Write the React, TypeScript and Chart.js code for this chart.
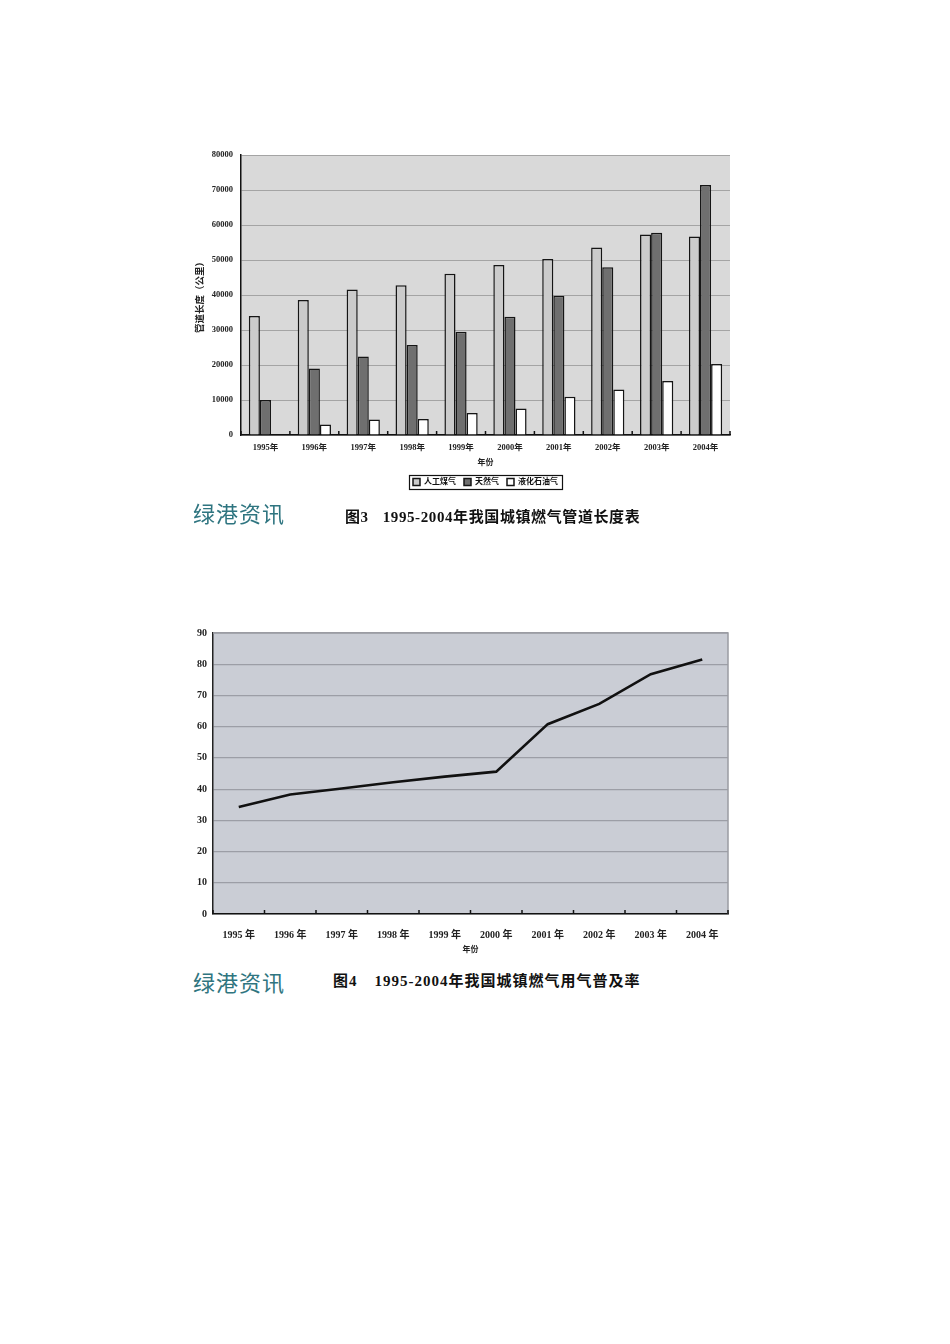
import React, { useEffect, useRef } from "react";
import { Chart, registerables } from "chart.js";

Chart.register(...registerables);

// ---------- data ----------
const barYears = ["1995年", "1996年", "1997年", "1998年", "1999年", "2000年", "2001年", "2002年", "2003年", "2004年"];
const artificialGas = [34000, 38600, 41600, 42800, 46100, 48600, 50300, 53600, 57300, 56700];
const naturalGas = [10000, 19000, 22400, 25700, 29500, 33800, 39800, 47900, 57800, 71400];
const lpgGas = [0, 3000, 4400, 4600, 6300, 7600, 10900, 13000, 15400, 20300];
const seriesNames = ["人工煤气", "天然气", "液化石油气"];
const barYMax = 80000;
const barYStep = 10000;

const lineYears = ["1995 年", "1996 年", "1997 年", "1998 年", "1999 年", "2000 年", "2001 年", "2002 年", "2003 年", "2004 年"];
const penetration = [34.3, 38.3, 40.2, 42.2, 44.0, 45.6, 60.8, 67.3, 76.8, 81.5];
const lineYMax = 90;
const lineYStep = 10;

const FONT = "'Liberation Serif', 'Noto Sans CJK SC', serif";

// ---------- plugins ----------
const areaBg = (color: string) => ({
  id: "areaBg",
  beforeDraw(chart: any) {
    const { ctx, chartArea } = chart;
    ctx.save();
    ctx.fillStyle = color;
    ctx.fillRect(chartArea.left, chartArea.top, chartArea.right - chartArea.left, chartArea.bottom - chartArea.top);
    ctx.restore();
  },
});

const innerTicks = {
  id: "innerTicks",
  afterDraw(chart: any) {
    const xs = chart.scales.x;
    const n = chart.data.labels.length;
    const ctx = chart.ctx;
    const half = (xs.getPixelForValue(1) - xs.getPixelForValue(0)) / 2;
    ctx.save();
    ctx.strokeStyle = "#111";
    ctx.lineWidth = 1.5;
    for (let i = 0; i <= n; i++) {
      const px = xs.getPixelForValue(i) - half;
      ctx.beginPath();
      ctx.moveTo(px, chart.chartArea.bottom);
      ctx.lineTo(px, chart.chartArea.bottom - 4);
      ctx.stroke();
    }
    ctx.restore();
  },
};

const legendFrame = {
  id: "legendFrame",
  afterDraw(chart: any) {
    const hb = chart.legend && chart.legend.legendHitBoxes;
    if (!hb || !hb.length) return;
    let l = Infinity, r = -Infinity, t = Infinity, b = -Infinity;
    hb.forEach((h: any) => {
      l = Math.min(l, h.left);
      r = Math.max(r, h.left + h.width);
      t = Math.min(t, h.top);
      b = Math.max(b, h.top + h.height);
    });
    const ctx = chart.ctx;
    ctx.save();
    ctx.strokeStyle = "#111";
    ctx.lineWidth = 1.2;
    ctx.strokeRect(Math.round(l - 4) + 0.5, Math.round(t - 3) + 0.5, Math.round(r - l + 8), Math.round(b - t + 6));
    ctx.restore();
  },
};

const topRightFrame = {
  id: "topRightFrame",
  afterDraw(chart: any) {
    const { ctx, chartArea } = chart;
    ctx.save();
    ctx.strokeStyle = "#9a9ca2";
    ctx.lineWidth = 1.5;
    ctx.beginPath();
    ctx.moveTo(chartArea.left, chartArea.top);
    ctx.lineTo(chartArea.right, chartArea.top);
    ctx.lineTo(chartArea.right, chartArea.bottom);
    ctx.stroke();
    ctx.restore();
  },
};

// ---------- charts ----------
function BarChart() {
  const ref = useRef<HTMLCanvasElement>(null);
  useEffect(() => {
    if (!ref.current) return;
    const border = "#151515";
    const chart = new Chart(ref.current, {
      type: "bar",
      data: {
        labels: barYears,
        datasets: [
          { label: seriesNames[0], data: artificialGas, backgroundColor: "#cbcbcb", borderColor: border, borderWidth: 1.5 },
          { label: seriesNames[1], data: naturalGas, backgroundColor: "#6f6f6f", borderColor: border, borderWidth: 1.5 },
          { label: seriesNames[2], data: lpgGas, backgroundColor: "#ffffff", borderColor: border, borderWidth: 1.5 },
        ],
      },
      options: {
        animation: false,
        responsive: false,
        devicePixelRatio: 1,
        layout: { padding: { top: 15, right: 15, left: 0, bottom: 4 } },
        datasets: { bar: { categoryPercentage: 0.68, barPercentage: 1.0 } },
        plugins: {
          tooltip: { enabled: false },
          legend: {
            position: "bottom",
            fullSize: false,
            labels: {
              boxWidth: 7,
              boxHeight: 7,
              padding: 8,
              color: "#111",
              font: { family: FONT, size: 8, weight: "bold" },
            },
          },
        },
        scales: {
          x: {
            grid: { display: true, color: "transparent", drawTicks: false },
            border: { display: true, color: "#111", width: 1.5 },
            ticks: { color: "#222", padding: 8, maxRotation: 0, font: { family: FONT, size: 8.5, weight: "bold" } },
            title: { display: true, text: "年份", color: "#222", font: { family: FONT, size: 8, weight: "bold" }, padding: { top: 0, bottom: 2 } },
            afterFit: (s: any) => { s.height = 35; },
          },
          y: {
            min: 0,
            max: barYMax,
            ticks: {
              stepSize: barYStep,
              color: "#222",
              padding: 8,
              font: { family: FONT, size: 8.5, weight: "bold" },
              callback: (v: any) => String(v),
            },
            grid: { color: "#a4a4a4", lineWidth: 1, drawTicks: false },
            border: { display: true, color: "#111", width: 1.5 },
            title: { display: true, text: "管道长度（公里）", color: "#222", font: { family: FONT, size: 9.5, weight: "bold" }, padding: { top: 10, bottom: 0 } },
            afterFit: (s: any) => { s.width = 56; },
          },
        },
      },
      plugins: [areaBg("#d9d9d9"), innerTicks, legendFrame],
    } as any);
    return () => chart.destroy();
  }, []);
  return <canvas ref={ref} width={560} height={360} style={{ position: "absolute", left: 185, top: 140, width: 560, height: 360 }} />;
}

function LineChart() {
  const ref = useRef<HTMLCanvasElement>(null);
  useEffect(() => {
    if (!ref.current) return;
    const chart = new Chart(ref.current, {
      type: "line",
      data: {
        labels: lineYears,
        datasets: [
          { label: "普及率", data: penetration, borderColor: "#111", borderWidth: 2.6, pointRadius: 0, tension: 0, fill: false },
        ],
      },
      options: {
        animation: false,
        responsive: false,
        devicePixelRatio: 1,
        layout: { padding: { top: 13, right: 17, left: 0, bottom: 0 } },
        plugins: { tooltip: { enabled: false }, legend: { display: false } },
        scales: {
          x: {
            offset: true,
            grid: { display: true, color: "transparent", drawTicks: false, offset: true },
            border: { display: true, color: "#111", width: 1.5 },
            ticks: { color: "#222", padding: 15, maxRotation: 0, font: { family: FONT, size: 10, weight: "bold" } },
            title: { display: true, text: "年份", color: "#222", font: { family: FONT, size: 8, weight: "bold" }, padding: { top: 0, bottom: 10 } },
            afterFit: (s: any) => { s.height = 51; },
          },
          y: {
            min: 0,
            max: lineYMax,
            ticks: { stepSize: lineYStep, color: "#222", padding: 6, font: { family: FONT, size: 10, weight: "bold" } },
            grid: { color: "#9c9ea6", lineWidth: 1.2, drawTicks: false },
            border: { display: true, color: "#222", width: 1.5 },
            afterFit: (s: any) => { s.width = 28; },
          },
        },
      },
      plugins: [areaBg("#cacdd5"), topRightFrame, innerTicks],
    } as any);
    return () => chart.destroy();
  }, []);
  return <canvas ref={ref} width={560} height={345} style={{ position: "absolute", left: 185, top: 620, width: 560, height: 345 }} />;
}

const logoStyle: React.CSSProperties = {
  position: "absolute",
  left: 193,
  fontFamily: "'Noto Sans CJK SC', serif",
  fontSize: 22,
  lineHeight: "24px",
  color: "#2f7580",
  letterSpacing: 1,
  whiteSpace: "nowrap",
};

const captionStyle: React.CSSProperties = {
  position: "absolute",
  fontFamily: FONT,
  fontWeight: "bold",
  fontSize: 15,
  lineHeight: "18px",
  color: "#111",
  whiteSpace: "nowrap",
  letterSpacing: 1,
};

export default function App() {
  return (
    <div style={{ position: "absolute", left: 0, top: 0, width: 950, height: 1344, background: "#fff", overflow: "hidden" }}>
      <BarChart />
      <div style={{ ...logoStyle, top: 500 }}>绿港资讯</div>
      <div style={{ ...captionStyle, left: 345, top: 508, letterSpacing: 0.6 }}>
        <span>图3</span>
        <span style={{ marginLeft: 14 }}>1995-2004年我国城镇燃气管道长度表</span>
      </div>
      <LineChart />
      <div style={{ ...logoStyle, top: 969 }}>绿港资讯</div>
      <div style={{ ...captionStyle, left: 333, top: 972 }}>
        <span>图4</span>
        <span style={{ marginLeft: 17 }}>1995-2004年我国城镇燃气用气普及率</span>
      </div>
    </div>
  );
}
